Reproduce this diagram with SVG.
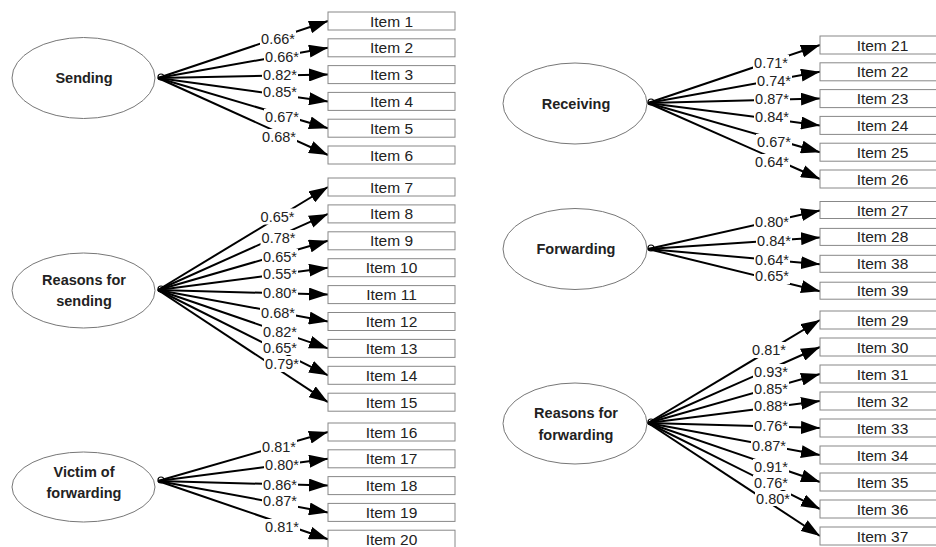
<svg xmlns="http://www.w3.org/2000/svg" width="936" height="547" viewBox="0 0 936 547">
<style>
.bg{fill:#fff}
.el{fill:#fff;stroke:#777;stroke-width:1}
.lv{font-family:"Liberation Sans",Arial,sans-serif;font-weight:bold;font-size:14.5px;fill:#222;text-anchor:middle}
.bx{fill:#fff;stroke:#888;stroke-width:1}
.it{font-family:"Liberation Sans",Arial,sans-serif;font-size:15.5px;fill:#222;text-anchor:middle}
.cn line{stroke:#000;stroke-width:2;marker-end:url(#ah)}
.kn{fill:none;stroke:#000;stroke-width:1.2}
.lr{fill:#fff}
.lt{font-family:"Liberation Sans",Arial,sans-serif;font-size:14.5px;fill:#222;text-anchor:middle}
</style>
<defs>
<marker id="ah" markerUnits="userSpaceOnUse" markerWidth="19" markerHeight="13" refX="19" refY="6.5" orient="auto">
<path d="M0,0 L19,6.5 L0,13 Z" fill="#000"/>
</marker>
</defs>
<rect class="bg" x="0" y="0" width="936" height="547"/>

<g id="latent-sending"><ellipse class="el" cx="83.5" cy="78" rx="71.5" ry="40.5"/><text class="lv" x="84" y="83">Sending</text></g>
<g id="latent-reasons-sending"><ellipse class="el" cx="83.5" cy="290.5" rx="71.5" ry="37.5"/><text class="lv" x="84" y="284.5">Reasons for</text><text class="lv" x="84" y="305.5">sending</text></g>
<g id="latent-victim"><ellipse class="el" cx="83.5" cy="487" rx="71.5" ry="35"/><text class="lv" x="84" y="477">Victim of</text><text class="lv" x="84" y="497.5">forwarding</text></g>
<g id="latent-receiving"><ellipse class="el" cx="575" cy="103.5" rx="72" ry="40.5"/><text class="lv" x="576" y="108.5">Receiving</text></g>
<g id="latent-forwarding"><ellipse class="el" cx="575" cy="249" rx="72" ry="40.5"/><text class="lv" x="576" y="254">Forwarding</text></g>
<g id="latent-reasons-forwarding"><ellipse class="el" cx="575" cy="423.5" rx="72" ry="40.5"/><text class="lv" x="576" y="418">Reasons for</text><text class="lv" x="576" y="440">forwarding</text></g>

<g id="connectors" class="cn">
<line x1="158" y1="78" x2="328" y2="21"/>
<line x1="158" y1="78" x2="328" y2="47.8"/>
<line x1="158" y1="78" x2="328" y2="74.6"/>
<line x1="158" y1="78" x2="328" y2="101.4"/>
<line x1="158" y1="78" x2="328" y2="128.2"/>
<line x1="158" y1="78" x2="328" y2="155"/>

<line x1="158" y1="290" x2="328" y2="187"/>
<line x1="158" y1="290" x2="328" y2="213.9"/>
<line x1="158" y1="290" x2="328" y2="240.8"/>
<line x1="158" y1="290" x2="328" y2="267.7"/>
<line x1="158" y1="290" x2="328" y2="294.6"/>
<line x1="158" y1="290" x2="328" y2="321.5"/>
<line x1="158" y1="290" x2="328" y2="348.4"/>
<line x1="158" y1="290" x2="328" y2="375.3"/>
<line x1="158" y1="290" x2="328" y2="402.2"/>

<line x1="158" y1="481" x2="328" y2="432"/>
<line x1="158" y1="481" x2="328" y2="458.8"/>
<line x1="158" y1="481" x2="328" y2="485.6"/>
<line x1="158" y1="481" x2="328" y2="512.4"/>
<line x1="158" y1="481" x2="328" y2="539.2"/>

<line x1="648" y1="103" x2="820" y2="45"/>
<line x1="648" y1="103" x2="820" y2="71.8"/>
<line x1="648" y1="103" x2="820" y2="98.6"/>
<line x1="648" y1="103" x2="820" y2="125.4"/>
<line x1="648" y1="103" x2="820" y2="152.2"/>
<line x1="648" y1="103" x2="820" y2="179"/>

<line x1="648" y1="249" x2="820" y2="210.5"/>
<line x1="648" y1="249" x2="820" y2="237.4"/>
<line x1="648" y1="249" x2="820" y2="264.3"/>
<line x1="648" y1="249" x2="820" y2="291.2"/>

<line x1="648" y1="423" x2="820" y2="320"/>
<line x1="648" y1="423" x2="820" y2="347"/>
<line x1="648" y1="423" x2="820" y2="374"/>
<line x1="648" y1="423" x2="820" y2="401"/>
<line x1="648" y1="423" x2="820" y2="428"/>
<line x1="648" y1="423" x2="820" y2="455"/>
<line x1="648" y1="423" x2="820" y2="482"/>
<line x1="648" y1="423" x2="820" y2="509"/>
<line x1="648" y1="423" x2="820" y2="536"/>
</g>

<g id="knots">
<circle class="kn" cx="161" cy="77" r="3"/>
<circle class="kn" cx="161" cy="289" r="3"/>
<circle class="kn" cx="161" cy="480" r="3"/>
<circle class="kn" cx="651" cy="102" r="3"/>
<circle class="kn" cx="651" cy="248" r="3"/>
<circle class="kn" cx="651" cy="422" r="3"/>
</g>

<g id="labels">
<rect class="lr" x="260" y="30.5" width="36" height="16"/><text class="lt" x="278" y="43.5">0.66*</text>
<rect class="lr" x="264" y="49" width="36" height="16"/><text class="lt" x="282" y="62">0.66*</text>
<rect class="lr" x="262" y="67" width="36" height="16"/><text class="lt" x="280" y="80">0.82*</text>
<rect class="lr" x="262" y="84" width="36" height="16"/><text class="lt" x="280" y="97">0.85*</text>
<rect class="lr" x="264" y="109" width="36" height="16"/><text class="lt" x="282" y="122">0.67*</text>
<rect class="lr" x="261" y="129" width="36" height="16"/><text class="lt" x="279" y="142">0.68*</text>

<rect class="lr" x="259.5" y="208.5" width="36" height="16"/><text class="lt" x="277.5" y="221.5">0.65*</text>
<rect class="lr" x="260.5" y="230" width="36" height="16"/><text class="lt" x="278.5" y="243">0.78*</text>
<rect class="lr" x="262" y="249" width="36" height="15"/><text class="lt" x="280" y="261.5">0.65*</text>
<rect class="lr" x="262" y="265" width="36" height="16"/><text class="lt" x="280" y="278.5">0.55*</text>
<rect class="lr" x="262" y="285" width="36" height="16"/><text class="lt" x="280" y="298">0.80*</text>
<rect class="lr" x="260" y="305" width="36" height="16"/><text class="lt" x="278" y="318">0.68*</text>
<rect class="lr" x="262" y="324" width="36" height="15"/><text class="lt" x="280" y="336.5">0.82*</text>
<rect class="lr" x="262" y="340" width="36" height="15"/><text class="lt" x="280" y="352.5">0.65*</text>
<rect class="lr" x="264" y="356" width="36" height="16"/><text class="lt" x="282" y="369">0.79*</text>

<rect class="lr" x="261" y="439" width="36" height="16"/><text class="lt" x="279" y="452">0.81*</text>
<rect class="lr" x="264" y="457" width="36" height="16"/><text class="lt" x="282" y="470">0.80*</text>
<rect class="lr" x="262" y="477" width="36" height="16"/><text class="lt" x="280" y="490">0.86*</text>
<rect class="lr" x="262" y="493" width="36" height="16"/><text class="lt" x="280" y="506">0.87*</text>
<rect class="lr" x="264" y="519" width="36" height="16"/><text class="lt" x="282" y="532">0.81*</text>

<rect class="lr" x="753" y="55" width="36" height="16"/><text class="lt" x="771" y="68">0.71*</text>
<rect class="lr" x="756" y="73" width="36" height="16"/><text class="lt" x="774" y="86">0.74*</text>
<rect class="lr" x="754" y="91" width="36" height="16"/><text class="lt" x="772" y="104">0.87*</text>
<rect class="lr" x="754" y="109" width="36" height="16"/><text class="lt" x="772" y="122">0.84*</text>
<rect class="lr" x="756" y="134" width="36" height="16"/><text class="lt" x="774" y="147">0.67*</text>
<rect class="lr" x="754" y="154" width="36" height="16"/><text class="lt" x="772" y="167">0.64*</text>

<rect class="lr" x="754" y="214" width="36" height="16"/><text class="lt" x="772" y="227">0.80*</text>
<rect class="lr" x="756" y="233" width="36" height="16"/><text class="lt" x="774" y="246">0.84*</text>
<rect class="lr" x="754" y="252" width="36" height="16"/><text class="lt" x="772" y="265">0.64*</text>
<rect class="lr" x="754" y="268" width="36" height="16"/><text class="lt" x="772" y="281">0.65*</text>

<rect class="lr" x="751" y="342" width="36" height="16"/><text class="lt" x="769" y="355">0.81*</text>
<rect class="lr" x="753" y="364" width="36" height="16"/><text class="lt" x="771" y="377">0.93*</text>
<rect class="lr" x="753" y="381" width="36" height="15"/><text class="lt" x="771" y="394">0.85*</text>
<rect class="lr" x="753" y="398" width="36" height="16"/><text class="lt" x="771" y="411">0.88*</text>
<rect class="lr" x="753" y="418" width="36" height="16"/><text class="lt" x="771" y="431">0.76*</text>
<rect class="lr" x="751" y="438" width="36" height="16"/><text class="lt" x="769" y="451">0.87*</text>
<rect class="lr" x="753" y="459" width="36" height="15"/><text class="lt" x="771" y="471.5">0.91*</text>
<rect class="lr" x="753" y="475" width="36" height="15"/><text class="lt" x="771" y="487.5">0.76*</text>
<rect class="lr" x="755" y="491" width="36" height="15"/><text class="lt" x="773" y="503.5">0.80*</text>
</g>

<g id="item1"><rect class="bx" x="328" y="12" width="127" height="18"/><text class="it" x="391.5" y="26.5">Item 1</text></g>
<g id="item2"><rect class="bx" x="328" y="38.8" width="127" height="18"/><text class="it" x="391.5" y="53.3">Item 2</text></g>
<g id="item3"><rect class="bx" x="328" y="65.6" width="127" height="18"/><text class="it" x="391.5" y="80.1">Item 3</text></g>
<g id="item4"><rect class="bx" x="328" y="92.4" width="127" height="18"/><text class="it" x="391.5" y="106.9">Item 4</text></g>
<g id="item5"><rect class="bx" x="328" y="119.2" width="127" height="18"/><text class="it" x="391.5" y="133.7">Item 5</text></g>
<g id="item6"><rect class="bx" x="328" y="146" width="127" height="18"/><text class="it" x="391.5" y="160.5">Item 6</text></g>
<g id="item7"><rect class="bx" x="328" y="178" width="127" height="18"/><text class="it" x="391.5" y="192.5">Item 7</text></g>
<g id="item8"><rect class="bx" x="328" y="204.9" width="127" height="18"/><text class="it" x="391.5" y="219.4">Item 8</text></g>
<g id="item9"><rect class="bx" x="328" y="231.8" width="127" height="18"/><text class="it" x="391.5" y="246.3">Item 9</text></g>
<g id="item10"><rect class="bx" x="328" y="258.7" width="127" height="18"/><text class="it" x="391.5" y="273.2">Item 10</text></g>
<g id="item11"><rect class="bx" x="328" y="285.6" width="127" height="18"/><text class="it" x="391.5" y="300.1">Item 11</text></g>
<g id="item12"><rect class="bx" x="328" y="312.5" width="127" height="18"/><text class="it" x="391.5" y="327">Item 12</text></g>
<g id="item13"><rect class="bx" x="328" y="339.4" width="127" height="18"/><text class="it" x="391.5" y="353.9">Item 13</text></g>
<g id="item14"><rect class="bx" x="328" y="366.3" width="127" height="18"/><text class="it" x="391.5" y="380.8">Item 14</text></g>
<g id="item15"><rect class="bx" x="328" y="393.2" width="127" height="18"/><text class="it" x="391.5" y="407.7">Item 15</text></g>
<g id="item16"><rect class="bx" x="328" y="423" width="127" height="18"/><text class="it" x="391.5" y="437.5">Item 16</text></g>
<g id="item17"><rect class="bx" x="328" y="449.8" width="127" height="18"/><text class="it" x="391.5" y="464.3">Item 17</text></g>
<g id="item18"><rect class="bx" x="328" y="476.6" width="127" height="18"/><text class="it" x="391.5" y="491.1">Item 18</text></g>
<g id="item19"><rect class="bx" x="328" y="503.4" width="127" height="18"/><text class="it" x="391.5" y="517.9">Item 19</text></g>
<g id="item20"><rect class="bx" x="328" y="530.2" width="127" height="18"/><text class="it" x="391.5" y="544.7">Item 20</text></g>

<g id="item21"><rect class="bx" x="820" y="36" width="125" height="18"/><text class="it" x="882.5" y="50.5">Item 21</text></g>
<g id="item22"><rect class="bx" x="820" y="62.8" width="125" height="18"/><text class="it" x="882.5" y="77.3">Item 22</text></g>
<g id="item23"><rect class="bx" x="820" y="89.6" width="125" height="18"/><text class="it" x="882.5" y="104.1">Item 23</text></g>
<g id="item24"><rect class="bx" x="820" y="116.4" width="125" height="18"/><text class="it" x="882.5" y="130.9">Item 24</text></g>
<g id="item25"><rect class="bx" x="820" y="143.2" width="125" height="18"/><text class="it" x="882.5" y="157.7">Item 25</text></g>
<g id="item26"><rect class="bx" x="820" y="170" width="125" height="18"/><text class="it" x="882.5" y="184.5">Item 26</text></g>
<g id="item27"><rect class="bx" x="820" y="201.5" width="125" height="17"/><text class="it" x="882.5" y="215.5">Item 27</text></g>
<g id="item28"><rect class="bx" x="820" y="228.4" width="125" height="17"/><text class="it" x="882.5" y="242.4">Item 28</text></g>
<g id="item38"><rect class="bx" x="820" y="255.3" width="125" height="17"/><text class="it" x="882.5" y="269.3">Item 38</text></g>
<g id="item39"><rect class="bx" x="820" y="282.2" width="125" height="17"/><text class="it" x="882.5" y="296.2">Item 39</text></g>
<g id="item29"><rect class="bx" x="820" y="311" width="125" height="18"/><text class="it" x="882.5" y="325.5">Item 29</text></g>
<g id="item30"><rect class="bx" x="820" y="338" width="125" height="18"/><text class="it" x="882.5" y="352.5">Item 30</text></g>
<g id="item31"><rect class="bx" x="820" y="365" width="125" height="18"/><text class="it" x="882.5" y="379.5">Item 31</text></g>
<g id="item32"><rect class="bx" x="820" y="392" width="125" height="18"/><text class="it" x="882.5" y="406.5">Item 32</text></g>
<g id="item33"><rect class="bx" x="820" y="419" width="125" height="18"/><text class="it" x="882.5" y="433.5">Item 33</text></g>
<g id="item34"><rect class="bx" x="820" y="446" width="125" height="18"/><text class="it" x="882.5" y="460.5">Item 34</text></g>
<g id="item35"><rect class="bx" x="820" y="473" width="125" height="18"/><text class="it" x="882.5" y="487.5">Item 35</text></g>
<g id="item36"><rect class="bx" x="820" y="500" width="125" height="18"/><text class="it" x="882.5" y="514.5">Item 36</text></g>
<g id="item37"><rect class="bx" x="820" y="527" width="125" height="18"/><text class="it" x="882.5" y="541.5">Item 37</text></g>
</svg>
